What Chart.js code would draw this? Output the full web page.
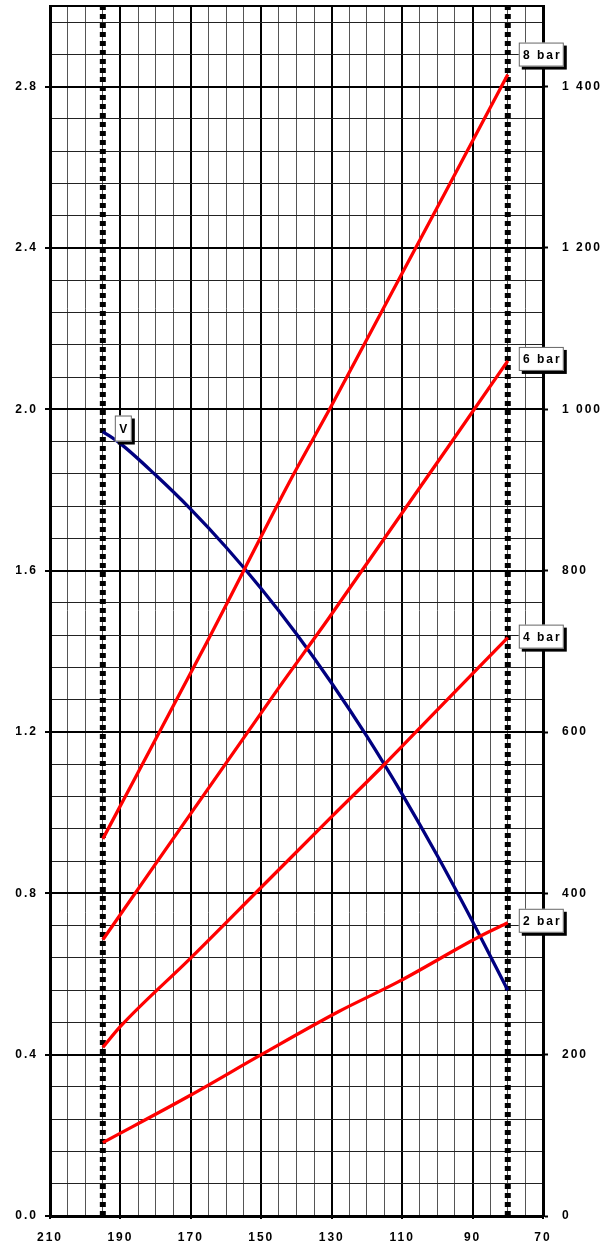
<!DOCTYPE html>
<html>
<head>
<meta charset="utf-8">
<script src="https://cdn.jsdelivr.net/npm/chart.js@4/dist/chart.umd.min.js"></script>
<style>
  html, body { margin: 0; padding: 0; background: #fff; }
  #wrap { width: 607px; height: 1245px; }
</style>
</head>
<body>
<div id="wrap"><canvas id="chart"></canvas></div>
<script>
// tick labels
const xTicks = [210, 190, 170, 150, 130, 110, 90, 70];
const leftTicks = [0, 0.4, 0.8, 1.2, 1.6, 2.0, 2.4, 2.8];
const rightTicks = [0, 200, 400, 600, 800, 1000, 1200, 1400];

// V curve
const vX = [195, 190, 180, 170, 160, 150, 140, 130, 120, 110, 100, 90, 80];
const vY = [1.945, 1.915, 1.837, 1.752, 1.658, 1.555, 1.443, 1.321, 1.189, 1.046, 0.893, 0.73, 0.56];

// pressure lines
const bar8X = [195, 165, 155, 142, 130, 80];
const bar8Y = [0.935, 1.43, 1.60, 1.82, 2.01, 2.83];
const bar6X = [195, 145, 131, 80];
const bar6Y = [0.685, 1.31, 1.48, 2.12];
const bar4X = [195, 190, 170, 150, 130, 115, 100, 80];
const bar4Y = [0.418, 0.47, 0.64, 0.815, 0.99, 1.12, 1.255, 1.434];
const bar2X = [195, 170, 150, 128, 111, 88, 80];
const bar2Y = [0.182, 0.30, 0.40, 0.507, 0.581, 0.693, 0.727];

// dotted limit lines
const limitX = [195, 80];

const toPts = (xs, ys) => xs.map((x, i) => ({ x: x, y: ys[i] }));
const has = (arr, v) => arr.some(t => Math.abs(t - v) < 1e-6);
const FONT = { family: "'Liberation Sans', Arial, sans-serif", size: 12, weight: 'bold' };

const datasets = [];
for (const lx of limitX) {
    datasets.push({
        data: [{ x: lx, y: 0 }, { x: lx, y: 3 }],
        borderColor: '#000',
        borderWidth: 6,
        borderDash: [5, 4],
        borderCapStyle: 'butt',
        pointRadius: 0,
        order: 5
    });
}
const redLines = [
    [bar8X, bar8Y, '8 bar', -32],
    [bar6X, bar6Y, '6 bar', -14],
    [bar4X, bar4Y, '4 bar', -13],
    [bar2X, bar2Y, '2 bar', -14]
];
for (const [xs, ys, tag, dy] of redLines) {
    datasets.push({
        data: toPts(xs, ys),
        borderColor: '#ff0000',
        borderWidth: 3.3,
        pointRadius: 0,
        cubicInterpolationMode: 'monotone',
        tag: tag,
        tagDy: dy,
        order: 1
    });
}
datasets.push({
    data: toPts(vX, vY),
    borderColor: '#000080',
    borderWidth: 3.3,
    pointRadius: 0,
    cubicInterpolationMode: 'monotone',
    tag: 'V',
    tagStart: true,
    order: 1
});

const tagPlugin = {
    id: 'tags',
    beforeDraw(chart) {
        chart.ctx.letterSpacing = '2px';
    },
    afterDraw(chart) {
        const ctx = chart.ctx;
        const a = chart.chartArea;
        ctx.save();
        ctx.strokeStyle = '#000';
        ctx.lineWidth = 2;
        ctx.beginPath();
        ctx.moveTo(a.left, a.top);
        ctx.lineTo(a.right, a.top);
        ctx.stroke();

        ctx.font = "bold 12px 'Liberation Sans', Arial, sans-serif";
        ctx.letterSpacing = '2px';
        ctx.textAlign = 'center';
        ctx.textBaseline = 'middle';
        chart.data.datasets.forEach((ds, i) => {
            if (!ds.tag) return;
            const meta = chart.getDatasetMeta(i);
            const pt = ds.tagStart ? meta.data[0] : meta.data[meta.data.length - 1];
            let left, top, w, h;
            if (ds.tagStart) {
                left = pt.x + 12; top = pt.y - 16; w = 17; h = 26;
            } else {
                left = pt.x + 11; top = pt.y + ds.tagDy; w = 45; h = 24;
            }
            ctx.fillStyle = '#000';
            ctx.fillRect(left + 3, top + 3, w, h);
            ctx.fillStyle = '#fff';
            ctx.fillRect(left, top, w, h);
            ctx.strokeStyle = '#666';
            ctx.lineWidth = 1;
            ctx.strokeRect(left + 0.5, top + 0.5, w - 1, h - 1);
            ctx.fillStyle = '#000';
            ctx.fillText(ds.tag, left + w / 2 + 1, top + h / 2 + 1);
        });
        ctx.restore();
    }
};

new Chart(document.getElementById('chart'), {
    type: 'line',
    data: { datasets: datasets },
    options: {
        responsive: true,
        maintainAspectRatio: false,
        animation: false,
        layout: { padding: { top: 6, left: 0, right: 0, bottom: 0 } },
        plugins: { legend: { display: false }, tooltip: { enabled: false } },
        scales: {
            x: {
                type: 'linear',
                min: 70,
                max: 210,
                reverse: true,
                afterFit: (s) => { s.height = 29; s.paddingLeft = 0; s.paddingRight = 0; },
                border: { color: '#000', width: 3 },
                grid: {
                    color: (c) => c.tick && has(xTicks, c.tick.value) ? '#000' : '#555',
                    lineWidth: (c) => c.tick && has(xTicks, c.tick.value) ? 2 : 1,
                    tickColor: (c) => c.tick && has(xTicks, c.tick.value) ? '#000' : 'rgba(0,0,0,0)',
                    tickWidth: 2,
                    tickLength: 3
                },
                ticks: {
                    stepSize: 5,
                    autoSkip: false,
                    maxRotation: 0,
                    padding: 11,
                    color: '#000',
                    font: FONT,
                    callback: (v) => has(xTicks, v) ? String(v) : ''
                }
            },
            y: {
                type: 'linear',
                position: 'left',
                min: 0,
                max: 3,
                afterFit: (s) => { s.width = 50; s.paddingTop = 0; s.paddingBottom = 0; },
                border: { color: '#000', width: 3 },
                grid: {
                    color: (c) => c.tick && has(leftTicks, c.tick.value) ? '#000' : '#222',
                    lineWidth: (c) => c.tick && has(leftTicks, c.tick.value) ? 2 : 1,
                    tickColor: (c) => c.tick && has(leftTicks, c.tick.value) ? '#000' : 'rgba(0,0,0,0)',
                    tickWidth: 2,
                    tickLength: 5
                },
                ticks: {
                    stepSize: 0.08,
                    includeBounds: false,
                    autoSkip: false,
                    padding: 7,
                    color: '#000',
                    font: FONT,
                    callback: (v) => has(leftTicks, v) ? v.toFixed(1) : ''
                }
            },
            y2: {
                type: 'linear',
                position: 'right',
                min: 0,
                max: 1500,
                afterFit: (s) => { s.width = 64; s.paddingTop = 0; s.paddingBottom = 0; },
                border: { color: '#000', width: 3 },
                grid: {
                    drawOnChartArea: false,
                    tickColor: (c) => c.tick && has(rightTicks, c.tick.value) ? '#000' : 'rgba(0,0,0,0)',
                    tickWidth: 2,
                    tickLength: 5
                },
                ticks: {
                    stepSize: 40,
                    includeBounds: false,
                    autoSkip: false,
                    padding: 14,
                    color: '#000',
                    font: FONT,
                    callback: (v) => has(rightTicks, v) ? String(v).replace(/\B(?=(\d{3})+(?!\d))/g, ' ') : ''
                }
            }
        }
    },
    plugins: [tagPlugin]
});
</script>
</body>
</html>
